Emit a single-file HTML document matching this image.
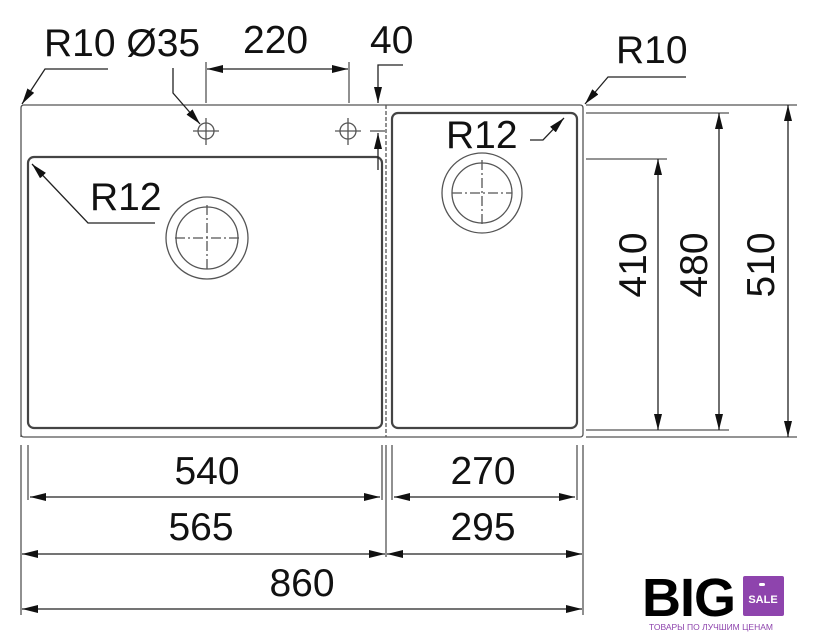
<!DOCTYPE html>
<html><head><meta charset="utf-8"><style>
html,body{margin:0;padding:0;background:#fff;}
svg{display:block}
text{font-family:"Liberation Sans",Arial,sans-serif;fill:#111;}
</style></head><body>
<svg width="817" height="640" viewBox="0 0 817 640" xmlns="http://www.w3.org/2000/svg">
<defs>
<marker id="a" viewBox="0 0 16 8" refX="16" refY="4" markerWidth="16" markerHeight="8" markerUnits="userSpaceOnUse" orient="auto-start-reverse"><path d="M0,0 L16,4 L0,8 Z" fill="#111"/></marker>
</defs>
<g fill="none" stroke="#555" stroke-width="1.3">
<path d="M21,437 L21,108 Q21,105 24,105 L580,105 Q583,105 583,108 L583,434 Q583,437 580,437 L24,437 Q21,437 21,434"/>
<line x1="386" y1="105" x2="386" y2="437" stroke-dasharray="4,2"/>
<rect x="28" y="157" width="354" height="271" rx="6" stroke-width="2.2" stroke="#444"/>
<rect x="392" y="113" width="185" height="315" rx="6" stroke-width="2.2" stroke="#444"/>
<circle cx="206" cy="131" r="8"/><line x1="193" y1="131" x2="219" y2="131"/><line x1="206" y1="118" x2="206" y2="145"/>
<circle cx="348" cy="131" r="8"/><line x1="335" y1="131" x2="361" y2="131"/><line x1="348" y1="118" x2="348" y2="145"/>
<line x1="370" y1="131" x2="385" y2="131"/>
<circle cx="207" cy="238" r="41"/><circle cx="207" cy="238" r="31"/>
<line x1="175" y1="238" x2="240" y2="238" stroke-dasharray="10,3,2,3"/><line x1="207" y1="205" x2="207" y2="272" stroke-dasharray="10,3,2,3"/>
<circle cx="482" cy="193" r="40"/><circle cx="482" cy="193" r="30"/>
<line x1="452" y1="193" x2="512" y2="193" stroke-dasharray="10,3,2,3"/><line x1="482" y1="160" x2="482" y2="226" stroke-dasharray="10,3,2,3"/>
<line x1="586" y1="105" x2="797" y2="105"/>
<line x1="586" y1="113" x2="729" y2="113"/>
<line x1="586" y1="159" x2="667" y2="159"/>
<line x1="586" y1="430" x2="729" y2="430"/>
<line x1="586" y1="437" x2="797" y2="437"/>
<line x1="658" y1="159" x2="658" y2="430" marker-start="url(#a)" marker-end="url(#a)" stroke="#222"/>
<line x1="719" y1="113" x2="719" y2="430" marker-start="url(#a)" marker-end="url(#a)" stroke="#222"/>
<line x1="788" y1="105" x2="788" y2="437" marker-start="url(#a)" marker-end="url(#a)" stroke="#222"/>
<line x1="21" y1="445" x2="21" y2="615"/>
<line x1="28" y1="445" x2="28" y2="500"/>
<line x1="382" y1="445" x2="382" y2="500"/>
<line x1="386" y1="445" x2="386" y2="557"/>
<line x1="392" y1="445" x2="392" y2="500"/>
<line x1="577" y1="445" x2="577" y2="500"/>
<line x1="583" y1="445" x2="583" y2="615"/>
<line x1="30" y1="497" x2="380" y2="497" marker-start="url(#a)" marker-end="url(#a)" stroke="#222"/>
<line x1="394" y1="497" x2="575" y2="497" marker-start="url(#a)" marker-end="url(#a)" stroke="#222"/>
<line x1="22" y1="554" x2="385" y2="554" marker-start="url(#a)" marker-end="url(#a)" stroke="#222"/>
<line x1="387" y1="554" x2="582" y2="554" marker-start="url(#a)" marker-end="url(#a)" stroke="#222"/>
<line x1="22" y1="609" x2="582" y2="609" marker-start="url(#a)" marker-end="url(#a)" stroke="#222"/>
<line x1="206" y1="62" x2="206" y2="103"/>
<line x1="349" y1="62" x2="349" y2="103"/>
<line x1="207" y1="69" x2="348" y2="69" marker-start="url(#a)" marker-end="url(#a)" stroke="#222"/>
<polyline points="403,65 378,65 378,103" marker-end="url(#a)" stroke="#222"/>
<line x1="378" y1="170" x2="378" y2="133" marker-end="url(#a)" stroke="#222"/>
<polyline points="108,69 45,69 22,104" marker-end="url(#a)" stroke="#222"/>
<polyline points="173,68 173,93 200,124" marker-end="url(#a)" stroke="#222"/>
<polyline points="155,223 88,223 32,164" marker-end="url(#a)" stroke="#222"/>
<polyline points="686,77 608,77 585,104" marker-end="url(#a)" stroke="#222"/>
<polyline points="530,140 543,140 564,118" marker-end="url(#a)" stroke="#222"/>
</g>
<g font-size="39">
<text x="44" y="56">R10 Ø35</text>
<text x="243" y="53">220</text>
<text x="370" y="53">40</text>
<text x="616" y="63">R10</text>
<text x="90" y="210">R12</text>
<text x="446" y="148">R12</text>
<text x="207" y="484" text-anchor="middle">540</text>
<text x="483" y="484" text-anchor="middle">270</text>
<text x="201" y="540" text-anchor="middle">565</text>
<text x="483" y="540" text-anchor="middle">295</text>
<text x="302" y="596" text-anchor="middle">860</text>
<text transform="translate(646,265) rotate(-90)" text-anchor="middle">410</text>
<text transform="translate(707,265) rotate(-90)" text-anchor="middle">480</text>
<text transform="translate(774,265) rotate(-90)" text-anchor="middle">510</text>
</g>
<text x="642" y="616" font-size="54" font-weight="bold" style="font-family:'Liberation Sans',sans-serif;letter-spacing:-1px;fill:#000">BIG</text>
<rect x="743" y="576" width="41" height="40" rx="2" fill="#8e44ad"/>
<rect x="759" y="583" width="6" height="3" rx="1.5" fill="#fff"/>
<text x="763" y="603" font-size="11" text-anchor="middle" style="fill:#fff;font-weight:bold">SALE</text>
<text x="711" y="630" font-size="8.5" text-anchor="middle" style="fill:#8e44ad">ТОВАРЫ ПО ЛУЧШИМ ЦЕНАМ</text>
</svg>
</body></html>
